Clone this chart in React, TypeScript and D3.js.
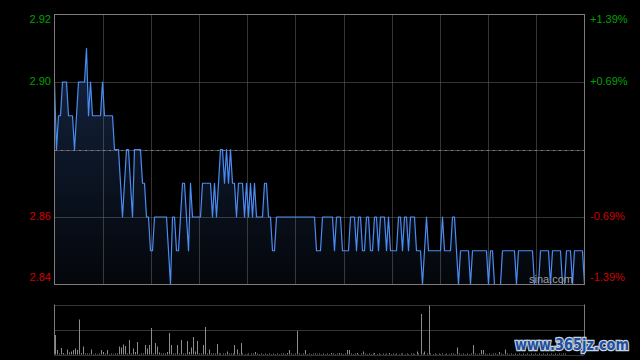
import React from 'react';
import * as d3 from 'd3';

// minute prices (one point ~ every 2px)
const prices: number[] = [
  2.90, 2.88, 2.89, 2.89, 2.90, 2.90, 2.90, 2.89, 2.89, 2.89,
  2.88, 2.89, 2.90, 2.90, 2.90, 2.90, 2.91, 2.89, 2.90, 2.89,
  2.89, 2.89, 2.89, 2.89, 2.90, 2.89, 2.89, 2.89, 2.89, 2.89,
  2.88, 2.88, 2.88, 2.87, 2.86, 2.87, 2.88, 2.88, 2.87, 2.86,
  2.88, 2.88, 2.88, 2.88, 2.87, 2.87, 2.86, 2.86, 2.85, 2.85,
  2.86, 2.86, 2.86, 2.86, 2.86, 2.86, 2.86, 2.85, 2.84, 2.86,
  2.86, 2.85, 2.85, 2.86, 2.87, 2.87, 2.86, 2.85, 2.87, 2.86,
  2.86, 2.86, 2.86, 2.86, 2.87, 2.87, 2.87, 2.87, 2.87, 2.86,
  2.87, 2.86, 2.87, 2.88, 2.88, 2.87, 2.88, 2.87, 2.88, 2.87,
  2.87, 2.86, 2.87, 2.87, 2.87, 2.86, 2.87, 2.86, 2.87, 2.86,
  2.87, 2.86, 2.86, 2.86, 2.86, 2.87, 2.87, 2.86, 2.86, 2.85,
  2.85, 2.86, 2.86, 2.86, 2.86, 2.86, 2.86, 2.86, 2.86, 2.86,
  2.86, 2.86, 2.86, 2.86, 2.86, 2.86, 2.86, 2.86, 2.86, 2.86,
  2.86, 2.85, 2.85, 2.85, 2.86, 2.86, 2.86, 2.86, 2.86, 2.86,
  2.85, 2.86, 2.86, 2.86, 2.85, 2.85, 2.85, 2.85, 2.86, 2.86,
  2.86, 2.85, 2.86, 2.86, 2.85, 2.85, 2.86, 2.86, 2.85, 2.85,
  2.86, 2.86, 2.85, 2.86, 2.86, 2.86, 2.85, 2.86, 2.85, 2.85,
  2.85, 2.85, 2.86, 2.86, 2.85, 2.86, 2.86, 2.85, 2.86, 2.86,
  2.86, 2.85, 2.85, 2.85, 2.84, 2.85, 2.86, 2.85, 2.85, 2.85,
  2.85, 2.85, 2.85, 2.85, 2.86, 2.85, 2.85, 2.85, 2.85, 2.86,
  2.86, 2.85, 2.84, 2.85, 2.85, 2.85, 2.85, 2.85, 2.84, 2.85,
  2.85, 2.85, 2.85, 2.85, 2.85, 2.85, 2.85, 2.84, 2.85, 2.85,
  2.84, 2.84, 2.84, 2.84, 2.85, 2.85, 2.85, 2.85, 2.85, 2.85,
  2.85, 2.84, 2.85, 2.85, 2.85, 2.85, 2.85, 2.85, 2.85, 2.85,
  2.84, 2.84, 2.84, 2.85, 2.85, 2.85, 2.85, 2.85, 2.84, 2.85,
  2.85, 2.85, 2.85, 2.85, 2.84, 2.84, 2.85, 2.85, 2.85, 2.84,
  2.85, 2.85, 2.85, 2.85, 2.85, 2.84,
];

// volume, relative to the panel top (=100)
const volumes: number[] = [
  39, 9, 2, 13, 3, 1, 10, 4, 6, 9,
  12, 9, 70, 3, 16, 2, 2, 2, 10, 1,
  2, 1, 2, 9, 5, 2, 9, 1, 2, 1,
  2, 2, 16, 14, 20, 17, 2, 29, 2, 12,
  5, 25, 1, 2, 2, 19, 12, 19, 53, 2,
  23, 16, 4, 2, 2, 2, 5, 43, 19, 2,
  2, 19, 2, 29, 2, 2, 27, 5, 14, 35,
  6, 27, 2, 2, 19, 55, 2, 10, 2, 2,
  2, 21, 2, 2, 2, 2, 6, 2, 2, 2,
  19, 10, 2, 23, 2, 1, 1, 2, 2, 2,
  5, 2, 1, 2, 1, 2, 1, 2, 1, 2,
  1, 2, 1, 2, 2, 1, 3, 9, 2, 1,
  2, 47, 2, 1, 2, 9, 1, 2, 1, 2,
  2, 1, 2, 1, 2, 1, 2, 1, 3, 2,
  1, 2, 3, 2, 1, 2, 9, 9, 2, 1,
  2, 3, 1, 2, 6, 2, 1, 2, 1, 2,
  3, 1, 2, 1, 2, 1, 2, 3, 1, 2,
  1, 2, 1, 2, 2, 1, 2, 1, 2, 2,
  1, 6, 2, 81, 2, 6, 2, 98, 2, 1,
  2, 1, 2, 1, 2, 1, 2, 1, 2, 2,
  1, 14, 2, 1, 2, 1, 2, 1, 2, 19,
  2, 1, 2, 9, 9, 2, 1, 2, 1, 2,
  2, 1, 5, 2, 1, 10, 2, 1, 2, 1,
  2, 1, 2, 1, 2, 1, 2, 1, 2, 1,
  2, 1, 2, 1, 2, 1, 2, 1, 2, 1,
  2, 1, 2, 1, 2, 2,
];

const prevClose = 2.88;
const priceTicks = [2.92, 2.90, 2.86, 2.84];
const pctLabels = ['+1.39%', '+0.69%', '-0.69%', '-1.39%'];
const gridCols = 11;

const W = 640;
const H = 360;
const left = 54.5;
const right = 584.5;
const top = 14.5;
const bottom = 284.5;
const volTop = 304.5;
const volBottom = 354.5;

export default function App() {
  const x = d3.scaleLinear().domain([0, prices.length - 1]).range([left, right]);
  const y = d3.scaleLinear().domain([2.84, 2.92]).range([bottom, top]);
  const col = d3.scaleLinear().domain([0, gridCols]).range([left, right]);
  const vy = d3.scaleLinear().domain([0, 100]).range([volBottom, volTop]);

  const line = d3.line<number>().x((_, i) => x(i)).y(d => y(d));
  const area = d3.area<number>().x((_, i) => x(i)).y0(bottom).y1(d => y(d));

  // first and last labels sit inside the frame
  const labelY = (v: number) => {
    const yy = y(v);
    if (v === 2.92) return yy + 6;
    if (v === 2.84) return yy - 6;
    return yy;
  };
  const font = 'Arial, "Liberation Sans", sans-serif';

  return (
    <div style={{ position: 'fixed', left: 0, top: 0, width: W, height: H, background: '#000' }}>
      <svg width={W} height={H} style={{ display: 'block' }}>
        <defs>
          <linearGradient id="fill" gradientUnits="userSpaceOnUse" x1="0" y1={y(2.91)} x2="0" y2={bottom}>
            <stop offset="0" stopColor="#142440" />
            <stop offset="1" stopColor="#04060a" />
          </linearGradient>
        </defs>
        <rect width={W} height={H} fill="#000" />

        <path d={area(prices) || ''} fill="url(#fill)" />

        {/* grid */}
        {d3.range(1, gridCols).map(k => (
          <line key={'v' + k} x1={Math.round(col(k)) + 0.5} x2={Math.round(col(k)) + 0.5} y1={top} y2={bottom}
            stroke="#6a6a6a" strokeDasharray="1,1" />
        ))}
        {[2.90, 2.86].map(v => (
          <line key={'h' + v} x1={left} x2={right} y1={Math.round(y(v)) + 0.5} y2={Math.round(y(v)) + 0.5}
            stroke="#6a6a6a" strokeDasharray="1,1" />
        ))}
        <line x1={left} x2={right} y1={Math.round(y(prevClose)) + 0.5} y2={Math.round(y(prevClose)) + 0.5}
          stroke="#808080" strokeDasharray="3,1,1,1" />

        <path d={line(prices) || ''} fill="none" stroke="#4b8cf2" strokeWidth={1.2} strokeLinejoin="round" />

        <rect x={left} y={top} width={right - left} height={bottom - top} fill="none" stroke="#7c7c7c" />

        {priceTicks.map((v, i) => (
          <g key={'t' + v} fontFamily={font} fontSize={11} dominantBaseline="middle"
            fill={v > prevClose ? '#00a000' : '#d00000'}>
            <text x={51} y={labelY(v)} textAnchor="end">{v.toFixed(2)}</text>
            <text x={590} y={labelY(v)}>{pctLabels[i]}</text>
          </g>
        ))}

        <text x={573} y={283} textAnchor="end" fontFamily={font} fontSize={11} fill="#a0a0a0">sina.com</text>

        {/* volume panel */}
        {[volTop, (volTop + volBottom) / 2, volBottom].map(v => (
          <line key={'vl' + v} x1={left} x2={right} y1={Math.round(v) + 0.5} y2={Math.round(v) + 0.5}
            stroke="#6a6a6a" strokeDasharray="1,1" />
        ))}
        <line x1={left} x2={left} y1={volTop} y2={volBottom} stroke="#7c7c7c" />
        <line x1={right} x2={right} y1={volTop} y2={volBottom} stroke="#7c7c7c" />
        {volumes.map((v, i) => (
          <line key={'b' + i} x1={Math.round(x(i)) + 0.5} x2={Math.round(x(i)) + 0.5}
            y1={volBottom} y2={vy(v)} stroke="#8c8c8c" />
        ))}

        <text x={515} y={350} fontFamily='"DejaVu Sans", sans-serif' fontWeight="bold" fontSize={15}
          textLength={114} lengthAdjust="spacingAndGlyphs"
          fill="#1d4f9c" stroke="#c9d3e0" strokeWidth={2.5} paintOrder="stroke">www.365jz.com</text>
      </svg>
    </div>
  );
}
